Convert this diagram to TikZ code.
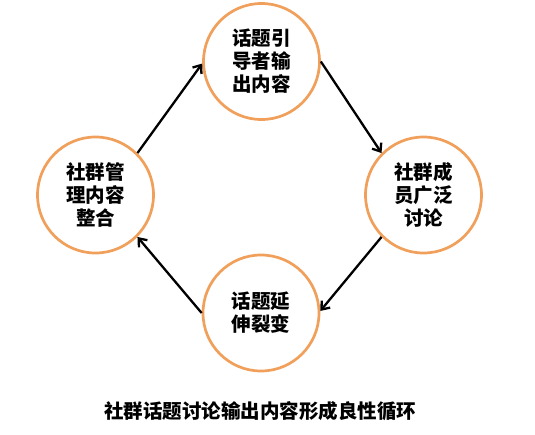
\documentclass[tikz,border=0pt]{standalone}
\usepackage{fontspec}
\newfontfamily\cjk{Noto Sans CJK SC}
\usetikzlibrary{arrows.meta}
\definecolor{ringorange}{RGB}{240,160,90}

\begin{document}
\begin{tikzpicture}[x=1pt,y=-1pt]
		\tikzstyle{ring}=[circle, draw=ringorange, line width=2.7pt, minimum size=116pt, inner sep=0pt, align=center, font=\cjk\bfseries\fontsize{19.5}{23}\selectfont]
		\tikzstyle{flow}=[black, line width=2.3pt, -{Straight Barb[length=7pt,width=11pt]}]
		\useasboundingbox (0,0) rectangle (535,434);
		\node [ring] (yindao) at (261.5,61.5) {话题引\\导者输\\出内容};
		\node [ring] (taolun) at (423.5,195) {社群成\\员广泛\\讨论};
		\node [ring] (liebian) at (261,313) {话题延\\伸裂变};
		\node [ring] (zhenghe) at (95.5,195) {社群管\\理内容\\整合};
		\node [font=\cjk\bfseries\fontsize{19.5}{23}\selectfont] (caption) at (260,411) {社群话题讨论输出内容形成良性循环};
		\draw [flow] (zhenghe.45) -- (yindao.182);
		\draw [flow] (yindao.0) -- (taolun.135);
		\draw [flow] (taolun.225) -- (liebian.2);
		\draw [flow] (liebian.180) -- (zhenghe.315);
	\end{tikzpicture}
\end{document}
